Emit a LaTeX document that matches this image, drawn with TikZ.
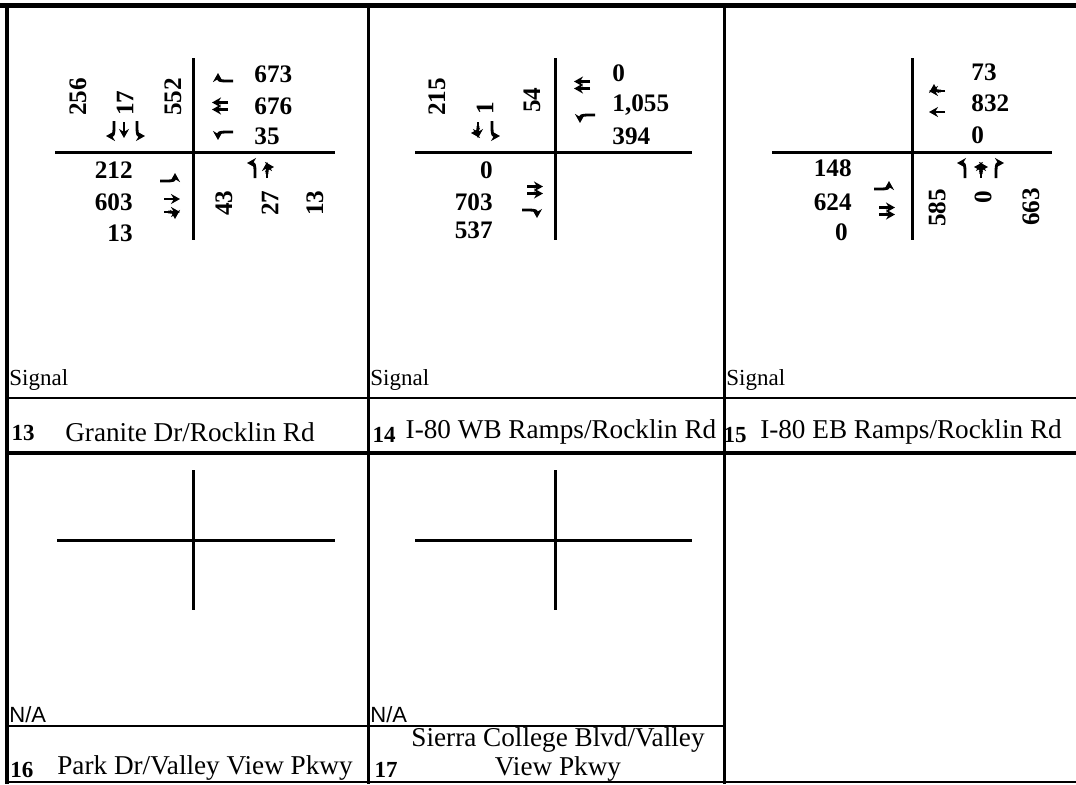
\documentclass[tikz,border=0pt]{standalone}
\usepackage{fontspec}
\setmainfont{Liberation Serif}
\newfontfamily\arialfont{Liberation Sans}
\usetikzlibrary{arrows.meta}
\tikzset{
  every node/.style={inner sep=0pt},
  num/.style={font=\fontsize{12.6}{14}\selectfont\bfseries},
  rnum/.style={num,rotate=90},
  site/.style={font=\fontsize{13.6}{14.5}\selectfont,align=center},
  siteno/.style={font=\fontsize{11.5}{13}\selectfont\bfseries},
  ctrl/.style={font=\fontsize{11.5}{13}\selectfont,anchor=west},
  na/.style={font=\arialfont\fontsize{11}{13}\selectfont,anchor=west},
  frame/.style={line width=1.5pt},
  road/.style={line width=1.5pt},
  lane/.style={line width=1.4pt,-{Stealth[length=4.5pt,width=5pt]}},
  pics/thru/.style={code={\draw[lane] (0,8) -- (0,-8);}},
  pics/dthru/.style={code={\draw[lane] (-3.5,8) -- (-3.5,-8); \draw[lane] (3.5,8) -- (3.5,-8);}},
  pics/lturn/.style={code={\draw[lane] (0,8) -- (0,1) .. controls (0,-5) and (-1,-7) .. (-8,-7);}},
  pics/rturn/.style={code={\draw[lane] (0,8) -- (0,1) .. controls (0,-5) and (1,-7) .. (8,-7);}},
  pics/thrurt/.style={code={\draw[lane] (0,8) -- (0,-8); \draw[lane] (0,4) .. controls (0,-2) and (1,-3) .. (7,-3);}},
  pics/allway/.style={code={\draw[lane] (0,8) -- (0,-8);
      \draw[lane] (0,4) .. controls (0,-2) and (-1,-3) .. (-7,-3);
      \draw[lane] (0,4) .. controls (0,-2) and (1,-3) .. (7,-3);}},
}

\begin{document}
\begin{tikzpicture}[x=0.5pt,y=-0.5pt]
  \useasboundingbox (0,0) rectangle (1076,784);

  % table rules
  \draw[line width=2.5pt] (0,5) -- (1076,5);
  \draw[line width=2pt] (7,5) -- (7,784);
  \draw[frame] (368,5) -- (368,784);
  \draw[frame] (724,5) -- (724,784);
  \draw[line width=1pt] (7,398) -- (1076,398);
  \draw[line width=2pt] (7,453) -- (1076,453);
  \draw[line width=1pt] (7,726) -- (724,726);
  \draw[line width=1.2pt] (7,782) -- (1076,782);

  % intersection crosses
  \foreach \cx/\l/\r in {193/55/335, 555/415/692, 912/772/1052} {
    \draw[road] (\cx,58) -- (\cx,240);
    \draw[road] (\l,152) -- (\r,152);
  }
  \foreach \cx/\l/\r in {193/57/335, 555/415/692} {
    \draw[road] (\cx,470) -- (\cx,610);
    \draw[road] (\l,540) -- (\r,540);
  }

  % 13 Granite Dr/Rocklin Rd
  \node[rnum] (g-sbr) at (78,97) {256};
  \node[rnum] (g-sbt) at (125,103) {17};
  \node[rnum] (g-sbl) at (173,97) {552};
  \pic[rotate=180] at (114,129) {rturn};
  \pic[rotate=180] at (124,130) {thru};
  \pic[rotate=180] at (137,129) {lturn};
  \node[num,anchor=west] (g-wbr) at (254,74) {673};
  \node[num,anchor=west] (g-wbt) at (254,106) {676};
  \node[num,anchor=west] (g-wbl) at (254,136) {35};
  \pic[rotate=90] at (225,81) {rturn};
  \pic[rotate=90] at (220,106) {dthru};
  \pic[rotate=90] at (225,132) {lturn};
  \node[num,anchor=east] (g-ebl) at (133,170) {212};
  \node[num,anchor=east] (g-ebt) at (133,202) {603};
  \node[num,anchor=east] (g-ebr) at (133,233) {13};
  \pic[rotate=-90] at (168,181) {lturn};
  \pic[rotate=-90] at (172,199) {thru};
  \pic[rotate=-90] at (172,212) {thrurt};
  \node[rnum] (g-nbl) at (224,203) {43};
  \node[rnum] (g-nbt) at (270,203) {27};
  \node[rnum] (g-nbr) at (315,203) {13};
  \pic at (255,170) {lturn};
  \pic at (267,170) {thrurt};
  \node[ctrl] (g-ctrl) at (9,380) {Signal};
  \node[siteno] (g-no) at (23,433) {13};
  \node[site] (g-name) at (190,432) {Granite Dr/Rocklin Rd};

  % 14 I-80 WB Ramps/Rocklin Rd
  \node[rnum] (w-sbr) at (437,97) {215};
  \node[rnum] (w-sbt) at (485,108) {1};
  \node[rnum] (w-sbl) at (532,100) {54};
  \pic[rotate=180] at (478,130) {thrurt};
  \pic[rotate=180] at (492,129) {lturn};
  \node[num,anchor=west] (w-wbr) at (612,73) {0};
  \node[num,anchor=west] (w-wbt) at (612,105) {1,055};
  \node[num,anchor=west] (w-wbl) at (612,136) {394};
  \pic[rotate=90] at (582,85) {dthru};
  \pic[rotate=90] at (587,115) {lturn};
  \node[num,anchor=east] (w-ebl) at (493,170) {0};
  \node[num,anchor=east] (w-ebt) at (493,202) {703};
  \node[num,anchor=east] (w-ebr) at (493,230) {537};
  \pic[rotate=-90] at (535,190) {dthru};
  \pic[rotate=-90] at (530,210) {rturn};
  \node[ctrl] (w-ctrl) at (370,380) {Signal};
  \node[siteno] (w-no) at (384,435) {14};
  \node[site] (w-name) at (561,432) {I-80 WB Ramps/Rocklin Rd};

  % 15 I-80 EB Ramps/Rocklin Rd
  \node[num,anchor=west] (e-wbr) at (971,72) {73};
  \node[num,anchor=west] (e-wbt) at (971,103) {832};
  \node[num,anchor=west] (e-wbl) at (971,135) {0};
  \pic[rotate=90] at (937,91) {thrurt};
  \pic[rotate=90] at (937,112) {thru};
  \node[num,anchor=east] (e-ebl) at (852,168) {148};
  \node[num,anchor=east] (e-ebt) at (852,202) {624};
  \node[num,anchor=east] (e-ebr) at (848,232) {0};
  \pic[rotate=-90] at (882,189) {lturn};
  \pic[rotate=-90] at (887,211) {dthru};
  \node[rnum] (e-nbl) at (937,208) {585};
  \node[rnum] (e-nbt) at (983,197) {0};
  \node[rnum] (e-nbr) at (1031,207) {663};
  \pic at (965,170) {lturn};
  \pic at (981,170) {allway};
  \pic at (996,170) {rturn};
  \node[ctrl] (e-ctrl) at (726,380) {Signal};
  \node[siteno] (e-no) at (735,435) {15};
  \node[site] (e-name) at (911,432) {I-80 EB Ramps/Rocklin Rd};

  % 16 and 17, no counts
  \node[na] (p-ctrl) at (9,715) {N/A};
  \node[siteno] (p-no) at (22,770) {16};
  \node[site] (p-name) at (205,768) {Park Dr/Valley View Pkwy};
  \node[na] (s-ctrl) at (370,715) {N/A};
  \node[siteno] (s-no) at (386,770) {17};
  \node[site] (s-name) at (558,754) {Sierra College Blvd/Valley\\View Pkwy};
\end{tikzpicture}
\end{document}
